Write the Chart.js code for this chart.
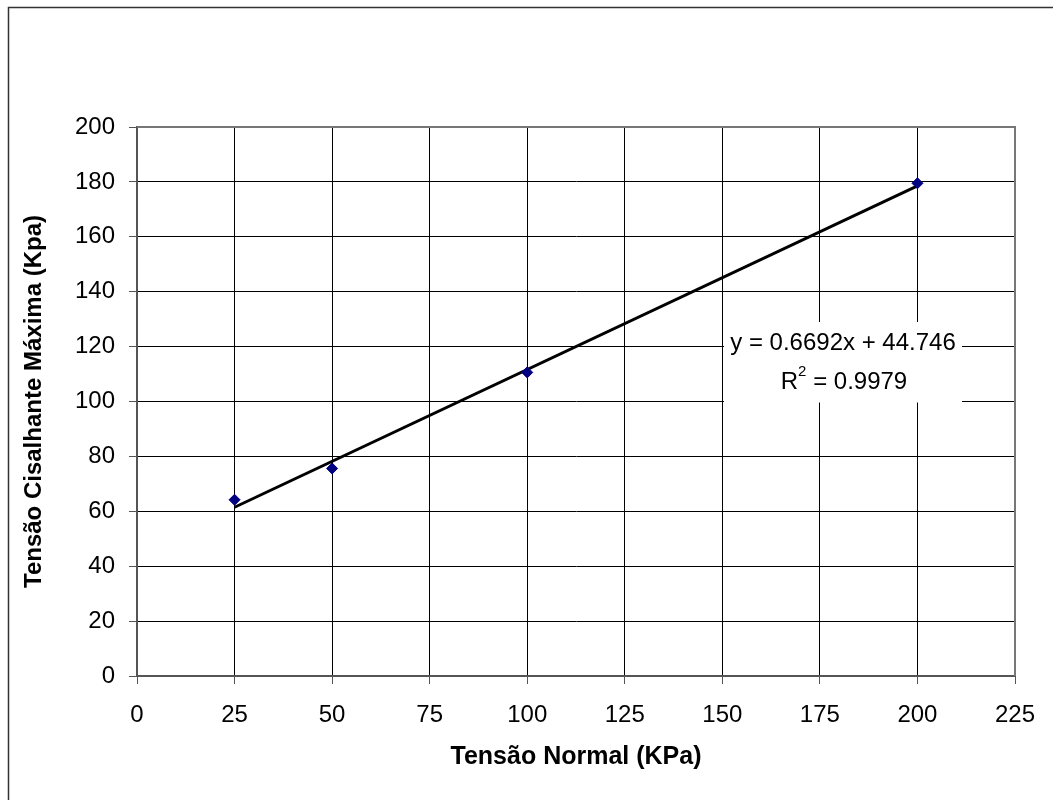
<!DOCTYPE html>
<html>
<head>
<meta charset="utf-8">
<script src="https://cdn.jsdelivr.net/npm/chart.js@4.4.1/dist/chart.umd.min.js"></script>
<style>
  html, body { margin: 0; padding: 0; background: #fff; }
  #wrap { width: 1053px; height: 800px; position: relative; }
</style>
</head>
<body>
<div id="wrap"><canvas id="c" width="1053" height="800"></canvas></div>
<script>
// ---- data ----
const tensaoNormal = [25, 50, 100, 200];            // KPa
const tensaoCisalhante = [64.2, 75.6, 110.6, 179.5]; // Kpa
const trendSlope = 0.6692;
const trendIntercept = 44.746;
const rSquared = 0.9979;
const xAxisTitle = 'Tensão Normal (KPa)';
const yAxisTitle = 'Tensão Cisalhante Máxima (Kpa)';
const xRange = [0, 225, 25];
const yRange = [0, 200, 20];

const FONT = '"Liberation Sans", Arial, sans-serif';

const points = tensaoNormal.map((x, i) => ({ x: x, y: tensaoCisalhante[i] }));
const xMin = Math.min(...tensaoNormal), xMax = Math.max(...tensaoNormal);
const trend = [xMin, xMax].map(x => ({ x: x, y: trendSlope * x + trendIntercept }));

const framePlugin = {
  id: 'frame',
  beforeDraw(chart) {
    const ctx = chart.ctx;
    ctx.save();
    ctx.fillStyle = '#fff';
    ctx.fillRect(0, 0, chart.width, chart.height);
    ctx.strokeStyle = '#333';
    ctx.lineWidth = 1.5;
    ctx.strokeRect(8.5, 7.5, 1200, 1000);
    ctx.restore();
  },
  beforeDatasetsDraw(chart) {
    const ctx = chart.ctx, a = chart.chartArea;
    ctx.save();
    ctx.strokeStyle = '#777';
    ctx.lineWidth = 2;
    ctx.beginPath();
    ctx.moveTo(a.left, a.top); ctx.lineTo(a.right, a.top); ctx.lineTo(a.right, a.bottom);
    ctx.stroke();
    ctx.restore();
  },
  afterDatasetsDraw(chart) {
    const ctx = chart.ctx;
    ctx.save();
    ctx.fillStyle = '#fff';
    ctx.fillRect(724, 322, 238, 80.5);
    ctx.fillStyle = '#000';
    ctx.textBaseline = 'middle';
    ctx.font = '24px ' + FONT;
    const eq = 'y = ' + trendSlope + 'x + ' + trendIntercept;
    ctx.textAlign = 'center';
    ctx.fillText(eq, 843, 343);
    // R^2 line
    const p1 = 'R', p3 = ' = ' + rSquared;
    ctx.font = '24px ' + FONT;
    const w1 = ctx.measureText(p1).width, w3 = ctx.measureText(p3).width;
    ctx.font = '15px ' + FONT;
    const w2 = ctx.measureText('2').width;
    const total = w1 + w2 + w3;
    let x = 844 - total / 2;
    ctx.textAlign = 'left';
    ctx.font = '24px ' + FONT;
    ctx.fillText(p1, x, 382);
    ctx.font = '15px ' + FONT;
    ctx.fillText('2', x + w1, 372);
    ctx.font = '24px ' + FONT;
    ctx.fillText(p3, x + w1 + w2, 382);
    ctx.restore();
  }
};

new Chart(document.getElementById('c'), {
  type: 'scatter',
  data: {
    datasets: [
      {
        label: 'Pontos',
        data: points,
        pointStyle: 'rectRot',
        pointRadius: 5.5,
        pointHoverRadius: 5.5,
        backgroundColor: '#000080',
        borderColor: '#000080',
        borderWidth: 1
      },
      {
        label: 'Linear',
        type: 'line',
        data: trend,
        borderColor: '#000',
        borderWidth: 3,
        pointRadius: 0,
        fill: false
      }
    ]
  },
  options: {
    responsive: false,
    animation: false,
    devicePixelRatio: 1,
    layout: { padding: { left: 0, top: 127, right: 38, bottom: 0 } },
    plugins: { legend: { display: false }, tooltip: { enabled: false } },
    scales: {
      x: {
        type: 'linear',
        position: 'bottom',
        min: xRange[0], max: xRange[1],
        ticks: { stepSize: xRange[2], color: '#000', font: { family: FONT, size: 24 }, padding: 17, maxRotation: 0, autoSkip: false },
        grid: { color: '#000', lineWidth: 1, tickLength: 8, tickColor: '#555' },
        border: { color: '#555', width: 2 },
        title: { display: true, text: xAxisTitle, color: '#000', font: { family: FONT, size: 25, weight: 'bold' }, padding: { top: 0, bottom: 28 } },
        afterFit(scale) { scale.height = 124; }
      },
      y: {
        type: 'linear',
        min: yRange[0], max: yRange[1],
        ticks: { stepSize: yRange[2], color: '#000', font: { family: FONT, size: 24 }, padding: 14 },
        grid: { color: '#000', lineWidth: 1, tickLength: 8, tickColor: '#555' },
        border: { color: '#555', width: 2 },
        title: { display: true, text: yAxisTitle, color: '#000', font: { family: FONT, size: 24, weight: 'bold' }, padding: { top: 20, bottom: 0 } },
        afterFit(scale) { scale.width = 137; }
      }
    }
  },
  plugins: [framePlugin]
});
</script>
</body>
</html>
